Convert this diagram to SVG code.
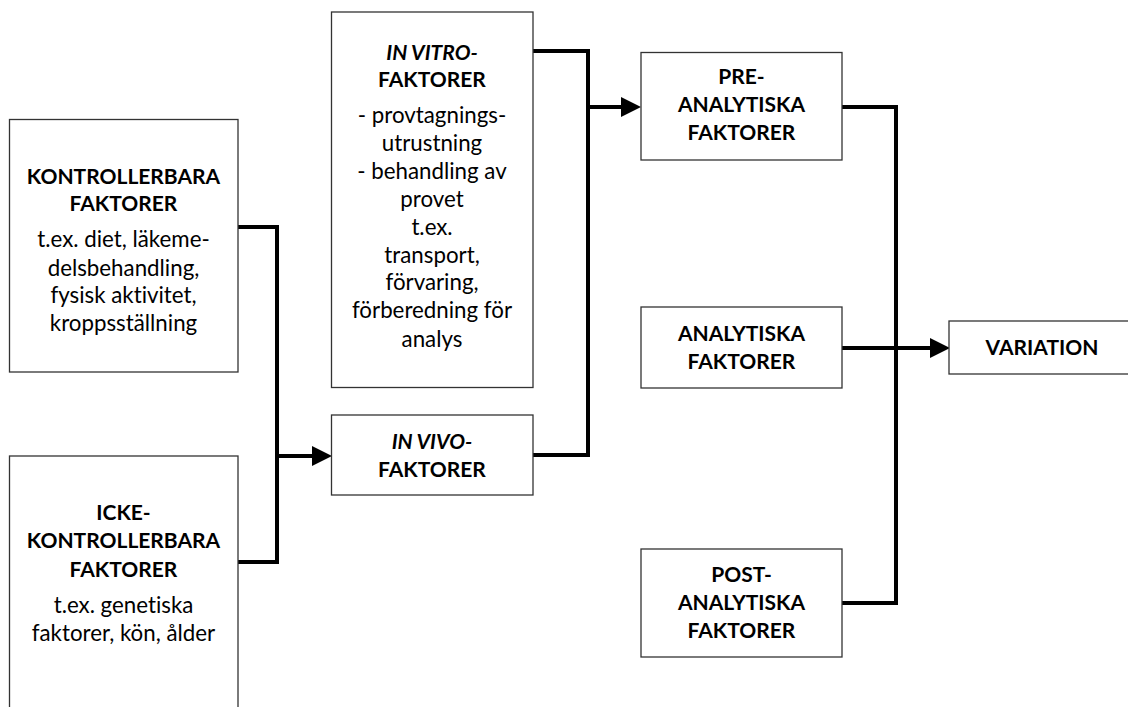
<svg xmlns="http://www.w3.org/2000/svg" width="1128" height="707" viewBox="0 0 1128 707">
<defs>
<style>
.box{fill:#fff;stroke:#333;stroke-width:1.3}
.con{fill:none;stroke:#000;stroke-width:4;stroke-linejoin:miter}
text{font-family:Lato,"Liberation Sans",sans-serif;font-size:22.3px;fill:#000;text-anchor:middle;font-variant-ligatures:none;font-feature-settings:"liga" 0}
.b{font-weight:bold;font-size:21px}
.i{font-style:italic}
</style>
<marker id="arr" markerUnits="userSpaceOnUse" markerWidth="20" markerHeight="20" refX="0" refY="9.5" orient="auto" viewBox="0 0 19 19">
<path d="M0,0 L19,9.5 L0,19 Z" fill="#000"/>
</marker>
</defs>
<rect width="1128" height="707" fill="#fff"/>
<g id="connectors">
<path class="con" d="M238,227 H277 V562 H238"/>
<path class="con" d="M277,456 H312" marker-end="url(#arr)"/>
<path class="con" d="M533,51 H588 V455 H533"/>
<path class="con" d="M588,107 H621" marker-end="url(#arr)"/>
<path class="con" d="M842,107 H896 V603 H842"/>
<path class="con" d="M842,348 H930" marker-end="url(#arr)"/>
</g>
<g id="kontrollerbara">
<rect class="box" x="9.5" y="119.5" width="228.5" height="252.5"/>
<text class="b" x="123.5" y="184">KONTROLLERBARA</text>
<text class="b" x="123.5" y="211">FAKTORER</text>
<text x="123.5" y="247">t.ex. diet, läkeme-</text>
<text x="123.5" y="275.5">delsbehandling,</text>
<text x="123.5" y="303">fysisk aktivitet,</text>
<text x="123.5" y="330.5">kroppsställning</text>
</g>
<g id="icke-kontrollerbara">
<rect class="box" x="9.5" y="456" width="228.5" height="270"/>
<text class="b" x="123.5" y="520">ICKE-</text>
<text class="b" x="123.5" y="548">KONTROLLERBARA</text>
<text class="b" x="123.5" y="576.5">FAKTORER</text>
<text x="123.5" y="613">t.ex. genetiska</text>
<text x="123.5" y="640.5">faktorer, kön, ålder</text>
</g>
<g id="in-vitro">
<rect class="box" x="331.5" y="12" width="201.5" height="375.5"/>
<text class="b i" x="432" y="60">IN VITRO-</text>
<text class="b" x="432" y="87">FAKTORER</text>
<text x="432" y="123">- provtagnings-</text>
<text x="432" y="151">utrustning</text>
<text x="432" y="179">- behandling av</text>
<text x="432" y="207">provet</text>
<text x="432" y="235">t.ex.</text>
<text x="432" y="262.5">transport,</text>
<text x="432" y="290">förvaring,</text>
<text x="432" y="318">förberedning för</text>
<text x="432" y="346.5">analys</text>
</g>
<g id="in-vivo">
<rect class="box" x="331.5" y="415" width="201.5" height="80"/>
<text class="b i" x="432" y="449">IN VIVO-</text>
<text class="b" x="432" y="476.5">FAKTORER</text>
</g>
<g id="preanalytiska">
<rect class="box" x="641" y="52.5" width="201" height="107.5"/>
<text class="b" x="741.5" y="84">PRE-</text>
<text class="b" x="741.5" y="111.5">ANALYTISKA</text>
<text class="b" x="741.5" y="139.5">FAKTORER</text>
</g>
<g id="analytiska">
<rect class="box" x="641" y="307" width="201" height="81"/>
<text class="b" x="741.5" y="340.5">ANALYTISKA</text>
<text class="b" x="741.5" y="368.5">FAKTORER</text>
</g>
<g id="postanalytiska">
<rect class="box" x="641" y="549" width="201" height="108"/>
<text class="b" x="741.5" y="581.5">POST-</text>
<text class="b" x="741.5" y="609.5">ANALYTISKA</text>
<text class="b" x="741.5" y="637.5">FAKTORER</text>
</g>
<g id="variation">
<rect class="box" x="949" y="321" width="200" height="53"/>
<text class="b" x="1042" y="354.5">VARIATION</text>
</g>
</svg>
